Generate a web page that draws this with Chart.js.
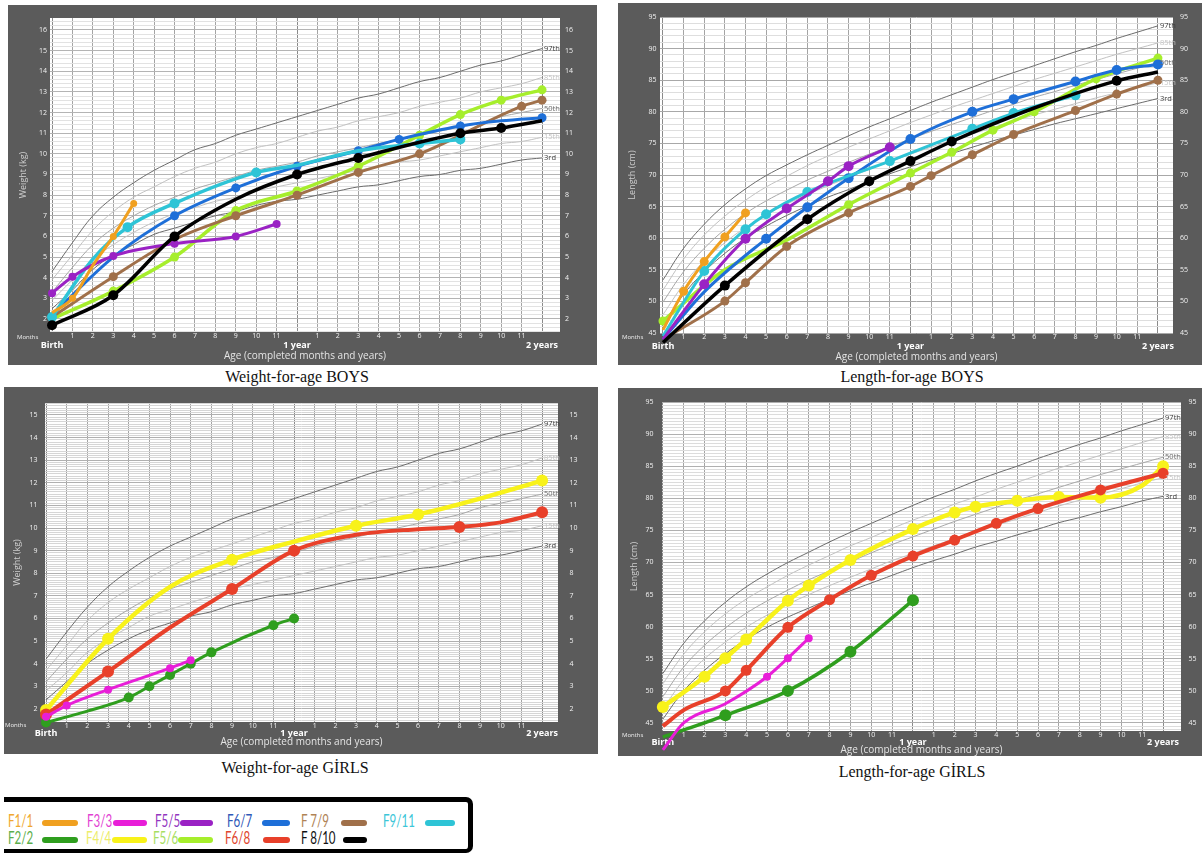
<!DOCTYPE html>
<html>
<head>
<meta charset="utf-8">
<script src="https://cdn.jsdelivr.net/npm/chart.js@4.4.1/dist/chart.umd.min.js"></script>
<style>
  html, body { margin: 0; padding: 0; background: #fff; }
  body { width: 1202px; height: 853px; position: relative; overflow: hidden; }
  .panel { position: absolute; background: #5b5b5b; }
  .panel canvas { display: block; }
  .cap { position: absolute; font-family: "Liberation Serif", "Times New Roman", serif; font-size: 16px;
         line-height: 16px; color: #111; transform: translateX(-50%); white-space: nowrap; }
  .legend-box { position: absolute; left: 4px; top: 797px; width: 464px; height: 47px;
                border-top: 5px solid #000; border-right: 5px solid #000; border-bottom: 4px solid #000;
                border-radius: 0 7px 7px 0; }
  .lt { position: absolute; font-family: "Lato", "DejaVu Sans", sans-serif; font-weight: 400; font-size: 17px;
        line-height: 17px; white-space: nowrap; transform: scaleX(0.68); transform-origin: 0 50%; }
  .sw { position: absolute; height: 6px; border-radius: 3px; }
</style>
</head>
<body>

<div class="panel" style="left:8px;top:5px;width:589px;height:360px"><canvas id="wBoys" width="589" height="360"></canvas></div>
<div class="panel" style="left:618px;top:3px;width:584px;height:362px"><canvas id="lBoys" width="584" height="362"></canvas></div>
<div class="panel" style="left:4px;top:387px;width:594px;height:367px"><canvas id="wGirls" width="594" height="367"></canvas></div>
<div class="panel" style="left:618px;top:388px;width:584px;height:368px"><canvas id="lGirls" width="584" height="368"></canvas></div>

<div class="cap" style="left:297px;top:369px">Weight-for-age BOYS</div>
<div class="cap" style="left:912px;top:369px">Length-for-age BOYS</div>
<div class="cap" style="left:295px;top:760px">Weight-for-age GİRLS</div>
<div class="cap" style="left:912px;top:764px">Length-for-age GİRLS</div>

<div class="legend-box"></div>
<div id="legend"></div>

<script>
// ---------- age axis (completed months) ----------
const ageMonths = [0,1,2,3,4,5,6,7,8,9,10,11,12,13,14,15,16,17,18,19,20,21,22,23,24];

// ---------- reference percentile curves ----------
// Weight-for-age, boys (kg)
const wbP3  = [2.5,3.4,4.4,5.1,5.6,6.1,6.4,6.7,7.0,7.2,7.5,7.7,7.8,8.0,8.2,8.4,8.5,8.7,8.9,9.0,9.2,9.3,9.5,9.7,9.8];
const wbP15 = [2.9,3.9,4.9,5.6,6.2,6.7,7.1,7.4,7.7,7.9,8.2,8.4,8.6,8.8,9.0,9.2,9.4,9.6,9.7,9.9,10.1,10.3,10.5,10.6,10.8];
const wbP50 = [3.3,4.5,5.6,6.4,7.0,7.5,7.9,8.3,8.6,8.9,9.2,9.4,9.6,9.9,10.1,10.3,10.5,10.7,10.9,11.1,11.3,11.5,11.8,12.0,12.2];
const wbP85 = [3.9,5.1,6.3,7.2,7.9,8.4,8.9,9.3,9.6,10.0,10.3,10.5,10.8,11.1,11.3,11.6,11.8,12.0,12.3,12.5,12.7,13.0,13.2,13.4,13.7];
const wbP97 = [4.3,5.7,7.0,7.9,8.6,9.2,9.7,10.2,10.5,10.9,11.2,11.5,11.8,12.1,12.4,12.7,12.9,13.2,13.5,13.7,14.0,14.3,14.5,14.8,15.1];
// Length-for-age, boys (cm)
const lbP3  = [46.3,51.1,54.7,57.6,60.0,61.9,63.6,65.1,66.5,67.7,69.0,70.2,71.3,72.4,73.4,74.4,75.4,76.3,77.2,78.1,78.9,79.7,80.5,81.3,82.1];
const lbP15 = [47.9,52.7,56.4,59.3,61.7,63.7,65.4,66.9,68.3,69.6,70.9,72.1,73.3,74.4,75.5,76.5,77.5,78.5,79.5,80.4,81.3,82.2,83.0,83.8,84.6];
const lbP50 = [49.9,54.7,58.4,61.4,63.9,65.9,67.6,69.2,70.6,72.0,73.3,74.5,75.7,76.9,78.0,79.1,80.2,81.2,82.3,83.2,84.2,85.1,86.0,86.9,87.8];
const lbP85 = [51.8,56.7,60.5,63.5,66.0,68.1,69.8,71.5,73.0,74.4,75.7,77.0,78.3,79.5,80.7,81.8,82.9,84.0,85.1,86.1,87.1,88.1,89.1,90.0,90.9];
const lbP97 = [53.4,58.4,62.2,65.3,67.8,69.9,71.6,73.2,74.7,76.2,77.6,78.9,80.2,81.5,82.7,83.9,85.1,86.2,87.3,88.4,89.5,90.5,91.6,92.6,93.6];
// Weight-for-age, girls (kg)
const wgP3  = [2.4,3.2,4.0,4.6,5.1,5.5,5.8,6.1,6.3,6.6,6.8,7.0,7.1,7.3,7.5,7.7,7.8,8.0,8.2,8.3,8.5,8.7,8.8,9.0,9.2];
const wgP15 = [2.8,3.6,4.5,5.1,5.6,6.1,6.4,6.7,7.0,7.3,7.5,7.7,7.9,8.1,8.3,8.5,8.7,8.8,9.0,9.2,9.4,9.6,9.8,9.9,10.1];
const wgP50 = [3.2,4.2,5.1,5.8,6.4,6.9,7.3,7.6,7.9,8.2,8.5,8.7,8.9,9.2,9.4,9.6,9.8,10.0,10.2,10.4,10.6,10.9,11.1,11.3,11.5];
const wgP85 = [3.7,4.8,5.9,6.7,7.3,7.8,8.3,8.7,9.0,9.3,9.6,9.9,10.2,10.4,10.7,10.9,11.2,11.4,11.6,11.9,12.1,12.4,12.6,12.8,13.1];
const wgP97 = [4.2,5.4,6.5,7.4,8.1,8.7,9.2,9.6,10.0,10.4,10.7,11.0,11.3,11.6,11.9,12.2,12.5,12.7,13.0,13.3,13.5,13.8,14.1,14.3,14.6];
// Length-for-age, girls (cm)
const lgP3  = [45.6,50.0,53.2,55.8,58.0,59.9,61.5,62.9,64.3,65.6,66.8,68.0,69.2,70.3,71.3,72.4,73.3,74.3,75.2,76.2,77.0,77.9,78.7,79.6,80.3];
const lgP15 = [47.2,51.7,55.0,57.6,59.9,61.8,63.5,65.0,66.4,67.7,69.0,70.3,71.4,72.6,73.7,74.8,75.8,76.8,77.8,78.8,79.7,80.6,81.5,82.4,83.2];
const lgP50 = [49.1,53.7,57.1,59.8,62.1,64.0,65.7,67.3,68.7,70.1,71.5,72.8,74.0,75.2,76.4,77.5,78.6,79.7,80.7,81.7,82.7,83.7,84.6,85.5,86.4];
const lgP85 = [51.1,55.7,59.2,62.0,64.3,66.2,68.0,69.6,71.1,72.6,73.9,75.3,76.6,77.8,79.1,80.2,81.4,82.5,83.6,84.7,85.7,86.7,87.7,88.7,89.6];
const lgP97 = [52.7,57.4,60.9,63.8,66.2,68.2,70.0,71.6,73.2,74.7,76.1,77.5,78.9,80.2,81.4,82.7,83.9,85.0,86.2,87.3,88.4,89.4,90.5,91.5,92.5];

// ---------- children's measurements ----------
// each child: age in months, measured value, and the ages where a dot was drawn
// Weight-for-age, boys (kg)
const wbF11Months = [0, 1, 2, 3, 4];
const wbF11Kg     = [2.3, 3.0, 4.6, 6.0, 7.6];
const wbF11Dots   = [1, 3, 4];
const wbF55Months = [0, 1, 3, 6, 9, 11];
const wbF55Kg     = [3.25, 4.05, 5.05, 5.65, 6.0, 6.6];
const wbF55Dots   = [0, 1, 3, 6, 9, 11];
const wbF56Months = [0, 3, 6, 9, 12, 15, 18, 20, 22, 24];
const wbF56Kg     = [2.0, 3.35, 5.0, 7.25, 8.2, 9.4, 10.9, 11.9, 12.6, 13.1];
const wbF56Dots   = [3, 6, 9, 12, 15, 18, 20, 22, 24];
const wbF67Months = [0, 3, 6, 9, 12, 15, 17, 20, 22, 24];
const wbF67Kg     = [2.2, 5.0, 7.0, 8.35, 9.4, 10.15, 10.7, 11.35, 11.6, 11.75];
const wbF67Dots   = [6, 9, 12, 15, 17, 20, 24];
const wbF79Months = [0, 3, 6, 9, 12, 15, 18, 23, 24];
const wbF79Kg     = [2.1, 4.05, 5.85, 7.0, 8.0, 9.1, 10.0, 12.3, 12.6];
const wbF79Dots   = [3, 9, 12, 15, 18, 23, 24];
const wbF810Months = [0, 3, 6, 9, 12, 15, 20, 22, 24];
const wbF810Kg     = [1.7, 3.15, 6.0, 7.8, 9.0, 9.8, 11.0, 11.25, 11.6];
const wbF810Dots   = [0, 3, 6, 12, 15, 20, 22];
const wbF911Months = [0, 2, 3.7, 6, 10, 12, 15, 18, 20];
const wbF911Kg     = [2.1, 4.9, 6.45, 7.6, 9.1, 9.45, 10.15, 10.5, 10.7];
const wbF911Dots   = [0, 3.7, 6, 10, 18, 20];

// Length-for-age, boys (cm)
const lbF11Months = [0, 1, 2, 3, 4];
const lbF11Cm     = [45.5, 51.6, 56.3, 60.2, 64.0];
const lbF11Dots   = [1, 2, 3, 4];
const lbF55Months = [0, 2, 4, 6, 8, 9, 11];
const lbF55Cm     = [44.0, 52.7, 59.9, 64.7, 69.0, 71.4, 74.4];
const lbF55Dots   = [2, 4, 6, 8, 9, 11];
const lbF56Months = [0, 3, 6, 9, 12, 14, 16, 18, 21, 24];
const lbF56Cm     = [46.9, 55.0, 59.7, 65.3, 70.3, 73.6, 77.1, 80.0, 85.2, 88.5];
const lbF56Dots   = [0, 9, 12, 14, 16, 18, 21, 24];
const lbF67Months = [0, 2, 5, 7, 9, 12, 15, 17, 20, 22, 24];
const lbF67Cm     = [44.0, 51.5, 59.9, 64.9, 69.5, 75.7, 80.0, 82.0, 84.8, 86.6, 87.5];
const lbF67Dots   = [5, 7, 9, 12, 15, 17, 20, 22, 24];
const lbF79Months = [0, 3, 4, 6, 9, 12, 13, 15, 17, 20, 22, 24];
const lbF79Cm     = [44.0, 50.05, 52.95, 58.7, 64.0, 68.2, 69.9, 73.2, 76.4, 80.2, 82.8, 85.0];
const lbF79Dots   = [3, 4, 6, 9, 12, 13, 15, 17, 20, 22, 24];
const lbF810Months = [0, 3, 7, 10, 12, 14, 18, 22, 24];
const lbF810Cm     = [43.5, 52.5, 63.0, 69.0, 72.2, 75.3, 80.6, 84.9, 86.3];
const lbF810Dots   = [0, 3, 7, 10, 12, 14, 22];
const lbF911Months = [0, 2, 4, 5, 7, 11, 15, 17, 20];
const lbF911Cm     = [44.5, 54.8, 61.4, 63.8, 67.3, 72.2, 77.3, 79.8, 82.6];
const lbF911Dots   = [2, 4, 5, 7, 11, 15, 17, 20];

// Weight-for-age, girls (kg)
const wgF22Months = [0, 2, 4, 5, 6, 7, 8, 11, 12];
const wgF22Kg     = [1.4, 1.9, 2.5, 3.0, 3.5, 4.0, 4.5, 5.7, 6.0];
const wgF22Dots   = [0, 4, 5, 6, 7, 8, 11, 12];
const wgF33Months = [0, 1, 3, 6, 7];
const wgF33Kg     = [1.65, 2.15, 2.85, 3.8, 4.15];
const wgF33Dots   = [0, 1, 3, 6, 7];
const wgF44Months = [0, 3, 6, 9, 12, 15, 18, 21, 24];
const wgF44Kg     = [1.95, 5.1, 7.4, 8.6, 9.4, 10.1, 10.6, 11.3, 12.1];
const wgF44Dots   = [0, 3, 9, 15, 18, 24];
const wgF68Months = [0, 3, 6, 9, 12, 15, 18, 20, 22, 24];
const wgF68Kg     = [1.75, 3.65, 5.6, 7.3, 9.0, 9.7, 9.95, 10.05, 10.25, 10.7];
const wgF68Dots   = [0, 3, 9, 12, 20, 24];

// Length-for-age, girls (cm)
const lgF22Months = [0, 3, 6, 9, 12];
const lgF22Cm     = [42.8, 46.2, 50.0, 56.1, 64.1];
const lgF22Dots   = [0, 3, 6, 9, 12];
const lgF33Months = [0, 1, 3, 5, 6, 7];
const lgF33Cm     = [40.8, 45.0, 48.0, 52.2, 55.1, 58.2];
const lgF33Dots   = [0, 5, 6, 7];
const lgF44Months = [0, 2, 3, 4, 6, 7, 9, 12, 14, 15, 17, 19, 21, 23, 24];
const lgF44Cm     = [47.5, 52.2, 55.1, 58.0, 64.05, 66.4, 70.4, 75.2, 77.8, 78.7, 79.6, 80.2, 80.1, 82.0, 85.0];
const lgF44Dots   = [0, 2, 3, 4, 6, 7, 9, 12, 14, 15, 17, 19, 21, 24];
const lgF68Months = [0, 1, 3, 4, 6, 8, 10, 12, 14, 16, 18, 21, 24];
const lgF68Cm     = [44.5, 47.0, 50.0, 53.2, 59.9, 64.2, 68.0, 71.0, 73.5, 76.1, 78.4, 81.3, 83.9];
const lgF68Dots   = [3, 4, 6, 8, 10, 12, 14, 16, 18, 21, 24];

// ---------- colours of each child ----------
const C = {
  f11: '#f0a020', f22: '#2f9e1e', f33: '#e81ed8', f44: '#f8f21a', f55: '#9a22c4', f56: '#a6ee2c',
  f67: '#1e6fd8', f68: '#e8402a', f79: '#a0704a', f810: '#000000', f911: '#2ec4d6'
};

function pts(months, vals) { return months.map((m, i) => ({ x: m, y: vals[i] })); }

function child(label, months, vals, dots, color, width, radius) {
  return {
    label, data: pts(months, vals),
    borderColor: color, backgroundColor: color, pointBackgroundColor: color,
    borderWidth: width, pointBorderWidth: 0, pointHoverRadius: 0,
    pointRadius: ctx => (ctx.raw && dots.includes(ctx.raw.x)) ? radius : 0,
    cubicInterpolationMode: 'monotone', clip: false
  };
}

function pct(name, vals, color, textColor) {
  return {
    label: name, data: pts(ageMonths, vals), borderColor: color, borderWidth: 1,
    pointRadius: 0, tension: 0.4, pctLabel: name, pctColor: textColor
  };
}
function pctSet(p3, p15, p50, p85, p97) {
  return [
    pct('97th', p97, '#6c6c6c', '#3a3a3a'),
    pct('85th', p85, '#c2c2c2', '#c4c4c4'),
    pct('50th', p50, '#a8a8a8', '#6a6a6a'),
    pct('15th', p15, '#c2c2c2', '#c4c4c4'),
    pct('3rd',  p3,  '#6c6c6c', '#3a3a3a')
  ];
}

// white plotting field, percentile names and the "Months" caption
const growthDecor = {
  id: 'growthDecor',
  beforeDraw(chart) {
    const a = chart.chartArea, ctx = chart.ctx;
    ctx.save(); ctx.fillStyle = '#ffffff';
    ctx.fillRect(a.left, a.top, a.right - a.left, a.bottom - a.top);
    ctx.restore();
  },
  afterDatasetsDraw(chart) {
    const ctx = chart.ctx;
    ctx.save();
    ctx.font = '7.5px "Open Sans", sans-serif';
    ctx.textBaseline = 'middle'; ctx.textAlign = 'left';
    chart.data.datasets.forEach((ds, i) => {
      if (!ds.pctLabel) return;
      const pts = chart.getDatasetMeta(i).data;
      const last = pts[pts.length - 1];
      ctx.fillStyle = ds.pctColor;
      ctx.fillText(ds.pctLabel, last.x + 2, last.y);
    });
    ctx.restore();
  },
  afterDraw(chart, args, opts) {
    const ctx = chart.ctx;
    ctx.save();
    ctx.font = '6px "Open Sans", sans-serif';
    ctx.fillStyle = '#eeeeee'; ctx.textAlign = 'left'; ctx.textBaseline = 'middle';
    ctx.fillText('Months', opts.monthsX, chart.chartArea.bottom + opts.monthsDY);
    ctx.restore();
  }
};

function monthLabel(v) {
  if (v === 0 || v === 12 || v === 24) return '';
  return String(v < 12 ? v : v - 12);
}
function yearLabel(v) {
  return v === 0 ? 'Birth' : v === 12 ? '1 year' : v === 24 ? '2 years' : '';
}

function growthChart(id, o) {
  const onStep = (v, s) => Math.abs(v / s - Math.round(v / s)) < 1e-6;
  const yLab = v => (onStep(v, o.yLabelStep) && v >= o.yLabelMin - 1e-6) ? String(Math.round(v)) : '';
  const tickFont = { family: 'Open Sans', size: 7 };
  return new Chart(document.getElementById(id), {
    type: 'line',
    data: { datasets: [...o.children, ...o.pcts] },
    options: {
      responsive: false, animation: false, events: [],
      layout: { padding: { top: o.top, left: 0, right: 0, bottom: 0 } },
      plugins: {
        legend: { display: false }, tooltip: { enabled: false },
        growthDecor: { monthsX: o.monthsX, monthsDY: o.monthsDY }
      },
      scales: {
        x: {
          type: 'linear', position: 'bottom', min: o.xMin, max: o.xMax, weight: 0,
          afterFit: s => { s.height = o.xH; },
          grid: { color: c => (c.tick.value % 12 === 0 ? '#8a8a8a' : '#a4a4a4'), lineWidth: 1, drawTicks: false },
          border: { display: false },
          ticks: { stepSize: 1, includeBounds: false, autoSkip: false, maxRotation: 0, padding: 0,
                   color: '#f2f2f2', font: tickFont, callback: monthLabel }
        },
        x2: {
          type: 'linear', position: 'bottom', min: o.xMin, max: o.xMax, weight: 1,
          afterFit: s => { s.height = o.x2H; },
          grid: { display: false, drawTicks: false }, border: { display: false },
          ticks: { stepSize: 12, includeBounds: false, autoSkip: false, maxRotation: 0, padding: 0,
                   color: '#ffffff', font: { family: 'Open Sans', size: 9, weight: 'bold' }, callback: yearLabel },
          title: { display: true, text: 'Age (completed months and years)', color: '#e4e4e4',
                   font: { family: 'Open Sans', size: 10 }, padding: { top: 0, bottom: o.titlePad } }
        },
        y: {
          type: 'linear', position: 'left', min: o.yMin, max: o.yMax,
          afterFit: s => { s.width = o.leftW; },
          grid: { color: c => (onStep(c.tick.value, o.yMajor) ? o.majorColor : o.minorColor), lineWidth: 1, drawTicks: false },
          border: { display: false },
          ticks: { stepSize: o.yStep, includeBounds: false, autoSkip: false, padding: o.yPad,
                   color: '#f2f2f2', font: tickFont, callback: yLab },
          title: { display: true, text: o.yTitle, color: '#cdcdcd', font: { family: 'Open Sans', size: 9 },
                   padding: { top: o.yTitlePad, bottom: 0 } }
        },
        y2: {
          type: 'linear', position: 'right', min: o.yMin, max: o.yMax,
          afterFit: s => { s.width = o.rightW; },
          grid: { display: false, drawTicks: false }, border: { display: false },
          ticks: { stepSize: o.yStep, includeBounds: false, autoSkip: false, padding: o.y2Pad,
                   color: '#f2f2f2', font: tickFont, callback: yLab }
        }
      }
    },
    plugins: [growthDecor]
  });
}

// Weight-for-age BOYS
growthChart('wBoys', {
  top: 13, leftW: 42, rightW: 37, xH: 8, x2H: 25, titlePad: 2.5,
  xMin: -0.1, xMax: 24.88, yMin: 1.37, yMax: 16.58, yStep: 0.2, yMajor: 1, yLabelStep: 1, yLabelMin: 2,
  majorColor: '#b4b4b4', minorColor: '#e2e2e2', yPad: 3, y2Pad: 5, yTitle: 'Weight (kg)', yTitlePad: 9.6,
  monthsX: 9, monthsDY: 5,
  pcts: pctSet(wbP3, wbP15, wbP50, wbP85, wbP97),
  children: [
    child('F8/10', wbF810Months, wbF810Kg, wbF810Dots, C.f810, 3.5, 5),
    child('F1/1', wbF11Months, wbF11Kg, wbF11Dots, C.f11, 3, 3.5),
    child('F5/5', wbF55Months, wbF55Kg, wbF55Dots, C.f55, 3, 4),
    child('F9/11', wbF911Months, wbF911Kg, wbF911Dots, C.f911, 3.5, 5),
    child('F6/7', wbF67Months, wbF67Kg, wbF67Dots, C.f67, 3, 4.5),
    child('F7/9', wbF79Months, wbF79Kg, wbF79Dots, C.f79, 3, 4.5),
    child('F5/6', wbF56Months, wbF56Kg, wbF56Dots, C.f56, 3.5, 4.5)
  ]
});

// Length-for-age BOYS
growthChart('lBoys', {
  top: 14, leftW: 42, rightW: 29, xH: 8, x2H: 24, titlePad: 2,
  xMin: -0.145, xMax: 24.73, yMin: 45, yMax: 95, yStep: 1, yMajor: 5, yLabelStep: 5, yLabelMin: 45,
  majorColor: '#a8a8a8', minorColor: '#dedede', yPad: 3.5, y2Pad: 7, yTitle: 'Length (cm)', yTitlePad: 8.6,
  monthsX: 4, monthsDY: 4,
  pcts: pctSet(lbP3, lbP15, lbP50, lbP85, lbP97),
  children: [
    child('F8/10', lbF810Months, lbF810Cm, lbF810Dots, C.f810, 3.5, 5),
    child('F1/1', lbF11Months, lbF11Cm, lbF11Dots, C.f11, 3, 4.5),
    child('F5/5', lbF55Months, lbF55Cm, lbF55Dots, C.f55, 3, 5),
    child('F9/11', lbF911Months, lbF911Cm, lbF911Dots, C.f911, 3, 5),
    child('F6/7', lbF67Months, lbF67Cm, lbF67Dots, C.f67, 3, 5),
    child('F7/9', lbF79Months, lbF79Cm, lbF79Dots, C.f79, 3, 4.5),
    child('F5/6', lbF56Months, lbF56Cm, lbF56Dots, C.f56, 3.5, 4.5)
  ]
});

// Weight-for-age GIRLS
growthChart('wGirls', {
  top: 16, leftW: 41, rightW: 40, xH: 6, x2H: 26, titlePad: 6,
  xMin: -0.05, xMax: 24.77, yMin: 1.42, yMax: 15.53, yStep: 0.1, yMajor: 1, yLabelStep: 1, yLabelMin: 2,
  majorColor: '#b0b0b0', minorColor: '#d6d6d6', yPad: 7.5, y2Pad: 11.5, yTitle: 'Weight (kg)', yTitlePad: 7.6,
  monthsX: 1, monthsDY: 3,
  pcts: pctSet(wgP3, wgP15, wgP50, wgP85, wgP97),
  children: [
    child('F3/3', wgF33Months, wgF33Kg, wgF33Dots, C.f33, 3, 4),
    child('F2/2', wgF22Months, wgF22Kg, wgF22Dots, C.f22, 3, 5),
    child('F6/8', wgF68Months, wgF68Kg, wgF68Dots, C.f68, 4, 6),
    child('F4/4', wgF44Months, wgF44Kg, wgF44Dots, C.f44, 4.5, 6)
  ]
});

// Length-for-age GIRLS
growthChart('lGirls', {
  top: 14, leftW: 44, rightW: 21, xH: 6, x2H: 19, titlePad: 0,
  xMin: -0.04, xMax: 24.86, yMin: 43.75, yMax: 95, yStep: 0.5, yMajor: 5, yLabelStep: 5, yLabelMin: 45,
  majorColor: '#b0b0b0', minorColor: '#dcdcdc', yPad: 8.5, y2Pad: 7.5, yTitle: 'Length (cm)', yTitlePad: 11,
  monthsX: 4, monthsDY: 4,
  pcts: pctSet(lgP3, lgP15, lgP50, lgP85, lgP97),
  children: [
    child('F3/3', lgF33Months, lgF33Cm, lgF33Dots, C.f33, 3, 4),
    child('F2/2', lgF22Months, lgF22Cm, lgF22Dots, C.f22, 3.5, 6),
    child('F6/8', lgF68Months, lgF68Cm, lgF68Dots, C.f68, 4, 5.5),
    child('F4/4', lgF44Months, lgF44Cm, lgF44Dots, C.f44, 4.5, 6)
  ]
});

// hand-written key shared by the four charts
const legendNames  = ['F1/1', 'F3/3', 'F5/5', 'F6/7', 'F 7/9', 'F9/11', 'F2/2', 'F4/4', 'F5/6', 'F6/8', 'F 8/10'];
const legendInk    = ['#f0a830', '#e23fd2', '#9336c0', '#2f58b8', '#b08355', '#3cc6d8', '#5cae4c', '#eded6a', '#a8de62', '#e0452e', '#111111'];
const legendSwatch = [C.f11, C.f33, C.f55, C.f67, C.f79, C.f911, C.f22, C.f44, C.f56, C.f68, C.f810];
const legendTextX  = [8, 87, 155, 227, 301, 383, 8, 86, 153, 225, 301];
const legendBarX   = [42, 113, 180, 262, 341, 425, 42, 112, 178, 263, 343];
const legendBarW   = [36, 34, 33, 28, 26, 30, 36, 35, 35, 27, 24];
const legendEl = document.getElementById('legend');
legendNames.forEach((name, i) => {
  const row = i < 6 ? 0 : 1;
  const t = document.createElement('span');
  t.className = 'lt'; t.textContent = name; t.style.color = legendInk[i];
  t.style.left = legendTextX[i] + 'px'; t.style.top = (812 + row * 17) + 'px';
  legendEl.appendChild(t);
  const b = document.createElement('span');
  b.className = 'sw'; b.style.background = legendSwatch[i];
  b.style.left = legendBarX[i] + 'px'; b.style.width = legendBarW[i] + 'px';
  b.style.top = (820 + row * 17) + 'px';
  legendEl.appendChild(b);
});
</script>
</body>
</html>
